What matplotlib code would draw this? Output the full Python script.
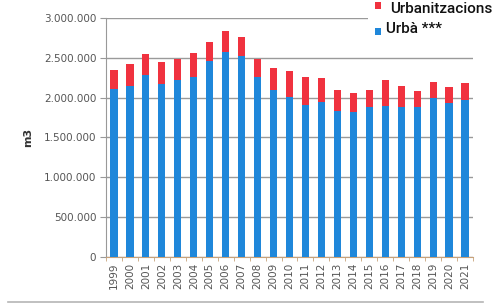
import matplotlib
matplotlib.use("Agg")
import matplotlib.pyplot as plt
import numpy as np
from matplotlib.lines import Line2D
from matplotlib.patches import Rectangle

years = [str(y) for y in range(1999, 2022)]
urba = [2112000, 2150000, 2288000, 2171000, 2225000, 2262000, 2462000, 2579000, 2525000,
        2254000, 2096000, 2004000, 1912000, 1950000, 1829000, 1816000, 1879000, 1900000,
        1888000, 1879000, 1991000, 1929000, 1971000]
total = [2350000, 2421000, 2546000, 2450000, 2483000, 2558000, 2704000, 2837000, 2766000,
         2483000, 2371000, 2337000, 2254000, 2241000, 2096000, 2054000, 2096000, 2221000,
         2146000, 2079000, 2200000, 2129000, 2179000]
urbanitzacions = [t - u for t, u in zip(total, urba)]
yticks = [0, 500000, 1000000, 1500000, 2000000, 2500000, 3000000]
ytick_labels = ["0", "500.000", "1.000.000", "1.500.000", "2.000.000", "2.500.000", "3.000.000"]

blue = "#1f87da"
red = "#f0323f"

fig = plt.figure(figsize=(5, 3.04), dpi=100)
ax = fig.add_axes([0.212, 0.1546, 0.734, 0.7862])
x = np.arange(len(years))
ax.bar(x, urba, width=0.45, color=blue, zorder=3)
ax.bar(x, urbanitzacions, bottom=urba, width=0.45, color=red, zorder=3)

ax.set_xlim(-0.5, len(years) - 0.5)
ax.set_ylim(0, 3000000)
ax.set_yticks(yticks)
ax.set_yticklabels(ytick_labels, fontsize=7.5, color="#555555")
ax.set_xticks(x)
ax.set_xticklabels(years, rotation=90, fontsize=7.5, color="#555555")
ax.set_xticks(np.arange(-0.5, len(years), 1), minor=True)
ax.tick_params(axis="x", which="major", length=0, pad=4)
ax.tick_params(axis="x", which="minor", length=3, color="#c8a27a")
ax.tick_params(axis="y", length=4, color="#999999", pad=3)
ax.yaxis.grid(True, color="#9a9a9a", linewidth=1.0, zorder=0)
for s in ["top", "right"]:
    ax.spines[s].set_visible(False)
ax.spines["left"].set_color("#999999")
ax.spines["bottom"].set_color("#c8a27a")
ax.set_ylabel("m3", fontsize=8, color="#333333", fontweight="bold", labelpad=8)

# legend area (white box at top right)
fig.patches.append(Rectangle((0.736, 0.865), 0.264, 0.135, transform=fig.transFigure,
                             facecolor="white", edgecolor="none", zorder=5))
fig.patches.append(Rectangle((0.75, 0.972), 0.012, 0.023, transform=fig.transFigure,
                             facecolor=red, edgecolor="none", zorder=6))
fig.patches.append(Rectangle((0.75, 0.885), 0.012, 0.022, transform=fig.transFigure,
                             facecolor=blue, edgecolor="none", zorder=6))
fig.text(0.781, 0.972, "Urbanitzacions", fontsize=11, family="Roboto", fontweight="medium",
         color="#111111", va="center", ha="left", zorder=7)
fig.text(0.772, 0.903, "Urbà ***", fontsize=11, family="Roboto", fontweight="medium",
         color="#111111", va="center", ha="left", zorder=7)

fig.add_artist(Line2D([0.016, 0.966], [0.007, 0.007], transform=fig.transFigure,
                      color="#b5b5b5", linewidth=1.2))

fig.savefig("out.png", dpi=100)
